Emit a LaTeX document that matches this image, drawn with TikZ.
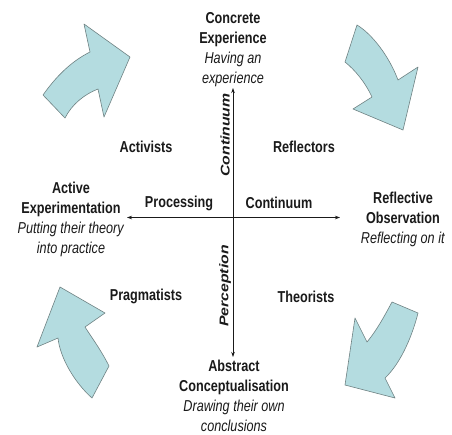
\documentclass[tikz,border=0pt]{standalone}
\usepackage{fontspec}
\usepackage{graphicx}
\setmainfont{Liberation Sans}[FakeStretch=0.8]
\newfontfamily\rotfont{Liberation Sans}
\usetikzlibrary{arrows.meta}
\definecolor{arrowfill}{HTML}{B4DCE0}
\definecolor{arrowedge}{HTML}{6F8283}
\definecolor{ink}{HTML}{1A1A1A}
\tikzset{
  lbl/.style={inner sep=0pt, align=center, text=ink, font=\fontsize{15.8}{20}\selectfont},
  rotlbl/.style={inner sep=0pt, text=ink, rotate=90, font=\rotfont\fontsize{15.8}{20}\selectfont\bfseries\itshape},
  cyclearrow/.style={fill=arrowfill, draw=arrowedge, line width=0.6pt, line join=round},
  axis/.style={draw=ink, line width=0.7pt, {Stealth[length=5pt,width=3.5pt]}-{Stealth[length=5pt,width=3.5pt]}},
}
\begin{document}
\begin{tikzpicture}[x=1pt,y=-1pt]
\useasboundingbox (0,0) rectangle (452,434);
\fill[white] (0,0) rectangle (452,434);

% curved cycle arrows
\path[cyclearrow] (43,95) .. controls (55,78) and (70,62) .. (90,52) -- (84,24) -- (130,57) -- (104,117) -- (98,89) .. controls (85,94) and (72,104) .. (65,118) -- cycle;
\path[cyclearrow] (357,25) .. controls (372,34) and (389,56) .. (398,80) -- (418,67) -- (403,130) -- (353,109) -- (372,97) .. controls (365,82) and (355,70) .. (345,62) -- cycle;
\path[cyclearrow] (392,302) -- (418,313) .. controls (413,333) and (402,362) .. (385,378) -- (395,398) -- (345,385) -- (355,318) -- (367,342) .. controls (377,330) and (385,315) .. (392,302) -- cycle;
\path[cyclearrow] (92,398) .. controls (75,383) and (60,358) .. (58,338) -- (37,347) -- (60,287) -- (105,313) -- (85,327) .. controls (92,338) and (101,350) .. (109,366) -- cycle;

% axes
\coordinate (axT) at (233,88);
\coordinate (axB) at (233,357);
\coordinate (axL) at (127,217.5);
\coordinate (axR) at (340,217.5);
\draw[axis] (axL) -- (axR);
\draw[axis] (axB) -- (axT);

% stage labels
\node[lbl] (ce) at (233,49.5) {\textbf{Concrete}\\\textbf{Experience}\\\textit{Having an}\\\textit{experience}};
\node[lbl] (ae) at (71,219.5) {\textbf{Active}\\\textbf{Experimentation}\\\textit{Putting their theory}\\\textit{into practice}};
\node[lbl] (ro) at (403,219.5) {\textbf{Reflective}\\\textbf{Observation}\\\textit{Reflecting on it}};
\node[lbl] (ac) at (234,395.5) {\textbf{Abstract}\\\textbf{Conceptualisation}\\\textit{Drawing their own}\\\textit{conclusions}};

% learner types
\node[lbl] (act) at (146,147) {\textbf{Activists}};
\node[lbl] (refl) at (304,147) {\textbf{Reflectors}};
\node[lbl] (prag) at (146,296) {\textbf{Pragmatists}};
\node[lbl] (theo) at (306,297) {\textbf{Theorists}};

% axis labels
\node[lbl] (proc) at (179,203) {\textbf{Processing}};
\node[lbl] (cont) at (279,203) {\textbf{Continuum}};
\node[rotlbl] (vcont) at (225,135) {\scalebox{1}[0.8]{Continuum}};
\node[rotlbl] (perc) at (225,286) {\scalebox{1}[0.8]{Perception}};
\end{tikzpicture}
\end{document}
